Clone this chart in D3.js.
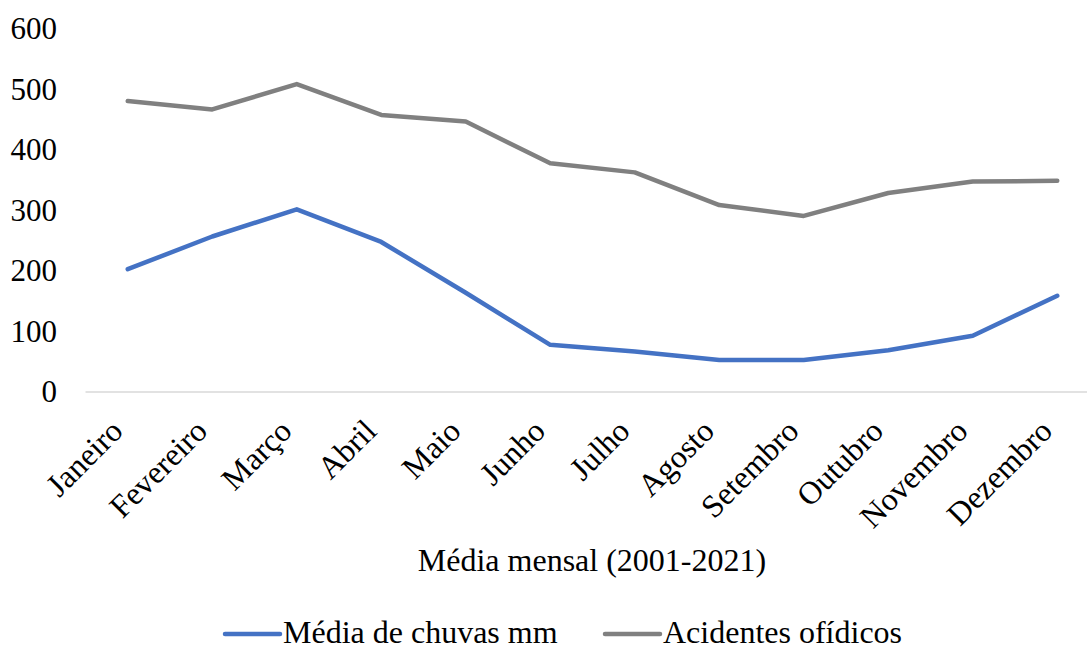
<!DOCTYPE html>
<html>
<head>
<meta charset="utf-8">
<script src="https://cdn.jsdelivr.net/npm/d3@7/dist/d3.min.js"></script>
<style>
  html, body { margin: 0; padding: 0; background: #fff; }
  svg { display: block; }
  text { font-family: "Liberation Serif", "Times New Roman", serif; fill: #000; }
</style>
</head>
<body>
<svg id="chart" width="1087" height="651"></svg>
<script>
// Monthly averages, 2001-2021
const months = ["Janeiro", "Fevereiro", "Março", "Abril", "Maio", "Junho",
                "Julho", "Agosto", "Setembro", "Outubro", "Novembro", "Dezembro"];
const chuvas = [203, 257, 302, 248, 164, 78, 67, 53, 53, 69, 93, 159];
const acidentes = [481, 467, 509, 458, 447, 378, 363, 309, 291, 329, 348, 349];
const yTicks = [0, 100, 200, 300, 400, 500, 600];
const seriesNames = ["Média de chuvas mm", "Acidentes ofídicos"];
const seriesColors = ["#4472C4", "#808080"];
const axisTitle = "Média mensal (2001-2021)";

const svg = d3.select("#chart");

const x = d3.scalePoint().domain(months).range([85.5, 1099.5]).padding(0.5);
const y = d3.scaleLinear().domain([0, 600]).range([392, 29]);

// Y axis labels (no axis line, no gridlines)
const yAxis = d3.axisLeft(y).tickValues(yTicks).tickSize(0).tickPadding(0);
const gy = svg.append("g").attr("transform", "translate(57,0)").call(yAxis);
gy.select(".domain").remove();
gy.selectAll("text")
  .style("font-family", '"Liberation Serif", "Times New Roman", serif')
  .style("font-size", "31px")
  .attr("fill", "#000");

// Horizontal category axis line
svg.append("line")
  .attr("x1", 85.5).attr("x2", 1087)
  .attr("y1", y(0)).attr("y2", y(0))
  .attr("stroke", "#d9d9d9").attr("stroke-width", 1.5);

// Rotated month labels
svg.append("g").selectAll("text")
  .data(months)
  .join("text")
  .attr("transform", d => `translate(${x(d) - 11},${425}) rotate(-45)`)
  .attr("text-anchor", "end")
  .attr("dy", "0.35em")
  .style("font-size", "32px")
  .text(d => d);

// Lines
const line = d3.line()
  .x((d, i) => x(months[i]))
  .y(d => y(d));

[chuvas, acidentes].forEach((vals, k) => {
  svg.append("path")
    .datum(vals)
    .attr("d", line)
    .attr("fill", "none")
    .attr("stroke", seriesColors[k])
    .attr("stroke-width", 4.5)
    .attr("stroke-linecap", "round")
    .attr("stroke-linejoin", "round");
});

// Axis title
svg.append("text")
  .attr("x", 592).attr("y", 571)
  .attr("text-anchor", "middle")
  .style("font-size", "32px")
  .text(axisTitle);

// Legend
const legendItems = [
  { x: 225 },
  { x: 605 }
];
const lg = svg.append("g");
legendItems.forEach((it, k) => {
  lg.append("line")
    .attr("x1", it.x).attr("x2", it.x + 55)
    .attr("y1", 634).attr("y2", 634)
    .attr("stroke", seriesColors[k])
    .attr("stroke-width", 4.5)
    .attr("stroke-linecap", "round");
  lg.append("text")
    .attr("x", it.x + 58).attr("y", 643)
    .style("font-size", "32px")
    .text(seriesNames[k]);
});
</script>
</body>
</html>
